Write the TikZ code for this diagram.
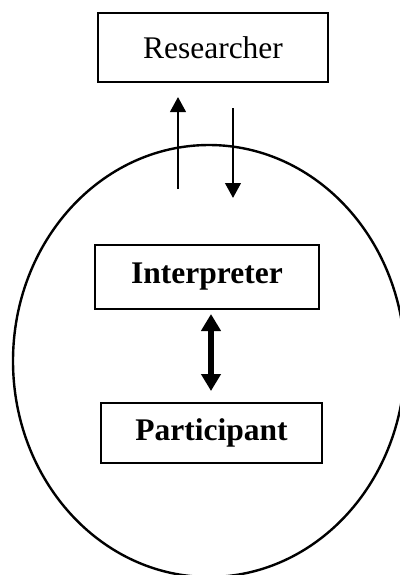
\documentclass[tikz,border=0pt]{standalone}
\usepackage{fontspec}
\setmainfont{Liberation Serif}
\usetikzlibrary{arrows.meta}

\begin{document}
\begin{tikzpicture}[x=0.5pt,y=-0.5pt,
  box/.style={draw,line width=1pt,inner sep=0pt,font=\fontsize{15.75pt}{19pt}\selectfont},
  thinarrow/.style={-{Triangle[length=7.5pt,width=7.8pt]},line width=1.2pt},
  thickarrow/.style={{Triangle[length=8.5pt,width=9.5pt]}-{Triangle[length=8.5pt,width=9.5pt]},line width=3pt}]
\useasboundingbox (0,0) rectangle (400,575);
\clip (0,0) rectangle (400,575);

\draw[line width=1.2pt] (209,361) ellipse [x radius=196, y radius=216];

\node[box,minimum width=115pt,minimum height=34.5pt] (Researcher) at (213,47.5) {Researcher};
\node[box,minimum width=112pt,minimum height=32pt] (Interpreter) at (207,277) {\bfseries Interpreter};
\node[box,minimum width=110.5pt,minimum height=30pt] (Participant) at (211.5,433) {\bfseries Participant};

\coordinate (UpFrom) at (178,189);
\coordinate (UpTo) at (178,97);
\coordinate (DownFrom) at (233,108);
\coordinate (DownTo) at (233,198);

\draw[thinarrow] (UpFrom) -- (UpTo);
\draw[thinarrow] (DownFrom) -- (DownTo);
\draw[thickarrow,shorten <=2pt,shorten >=5.5pt] (Interpreter.south -| 211,0) -- (Participant.north -| 211,0);

\end{tikzpicture}
\end{document}
